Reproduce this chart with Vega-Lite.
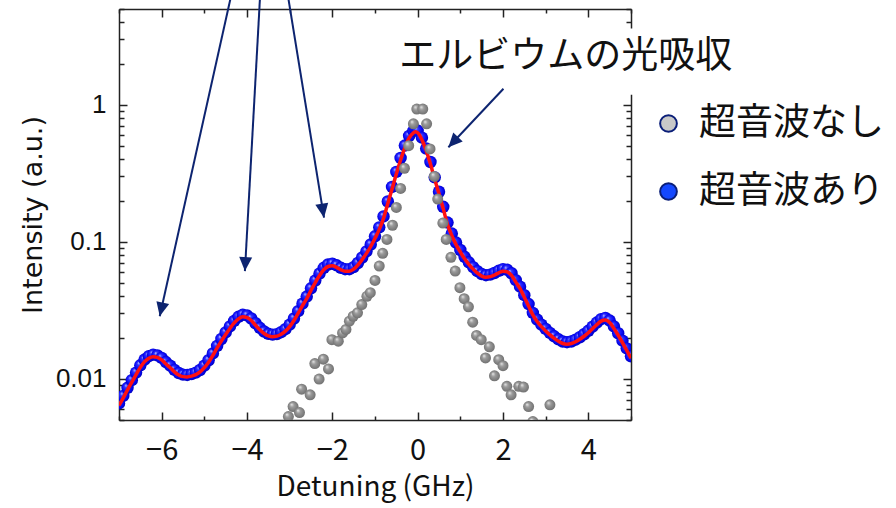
{
  "$schema": "https://vega.github.io/schema/vega-lite/v6.json",
  "width": 512,
  "height": 411,
  "autosize": {"type": "none"},
  "padding": {"left": 119, "top": 9, "right": 265, "bottom": 88},
  "background": "white",
  "config": {
    "view": {"stroke": null},
    "axis": {"grid": false, "tickColor": "#222", "tickWidth": 1.5, "domainColor": "#222", "domainWidth": 1.5}
  },
  "datasets": {
    "abs": [
      {"x": -7.0, "v": 0.00661}, {"x": -6.9, "v": 0.0075}, {"x": -6.8, "v": 0.00859}, {"x": -6.7, "v": 0.00977},
      {"x": -6.6, "v": 0.01109}, {"x": -6.5, "v": 0.01253}, {"x": -6.4, "v": 0.0138}, {"x": -6.3, "v": 0.01462},
      {"x": -6.2, "v": 0.015}, {"x": -6.1, "v": 0.01479}, {"x": -6.0, "v": 0.01419}, {"x": -5.9, "v": 0.01324},
      {"x": -5.8, "v": 0.01245}, {"x": -5.7, "v": 0.01161}, {"x": -5.6, "v": 0.01102}, {"x": -5.5, "v": 0.01072},
      {"x": -5.4, "v": 0.01067}, {"x": -5.3, "v": 0.01081}, {"x": -5.2, "v": 0.01109}, {"x": -5.1, "v": 0.01159},
      {"x": -5.0, "v": 0.01245}, {"x": -4.9, "v": 0.01365}, {"x": -4.8, "v": 0.01531}, {"x": -4.7, "v": 0.01738},
      {"x": -4.6, "v": 0.0195}, {"x": -4.5, "v": 0.02178}, {"x": -4.4, "v": 0.0241}, {"x": -4.3, "v": 0.02642},
      {"x": -4.2, "v": 0.02831}, {"x": -4.1, "v": 0.02931}, {"x": -4.0, "v": 0.02897}, {"x": -3.9, "v": 0.02754},
      {"x": -3.8, "v": 0.02541}, {"x": -3.7, "v": 0.02355}, {"x": -3.6, "v": 0.02213}, {"x": -3.5, "v": 0.02128},
      {"x": -3.4, "v": 0.02099}, {"x": -3.3, "v": 0.02118}, {"x": -3.2, "v": 0.02188}, {"x": -3.1, "v": 0.02301},
      {"x": -3.0, "v": 0.02483}, {"x": -2.9, "v": 0.02754}, {"x": -2.8, "v": 0.03112}, {"x": -2.7, "v": 0.03532},
      {"x": -2.6, "v": 0.03981}, {"x": -2.5, "v": 0.04571}, {"x": -2.4, "v": 0.05212}, {"x": -2.3, "v": 0.05861},
      {"x": -2.2, "v": 0.06457}, {"x": -2.1, "v": 0.06823}, {"x": -2.0, "v": 0.06918}, {"x": -1.9, "v": 0.0673},
      {"x": -1.8, "v": 0.06457}, {"x": -1.7, "v": 0.0631}, {"x": -1.6, "v": 0.0631}, {"x": -1.5, "v": 0.06531},
      {"x": -1.4, "v": 0.06998}, {"x": -1.3, "v": 0.07674}, {"x": -1.2, "v": 0.08511}, {"x": -1.1, "v": 0.0955},
      {"x": -1.0, "v": 0.10965}, {"x": -0.9, "v": 0.12735}, {"x": -0.8, "v": 0.15311}, {"x": -0.7, "v": 0.19679},
      {"x": -0.6, "v": 0.25119}, {"x": -0.5, "v": 0.32359}, {"x": -0.4, "v": 0.40926}, {"x": -0.3, "v": 0.5035},
      {"x": -0.2, "v": 0.59156}, {"x": -0.1, "v": 0.64565}, {"x": -0.05, "v": 0.65766}, {"x": 0.0, "v": 0.64565},
      {"x": 0.1, "v": 0.57544}, {"x": 0.2, "v": 0.47863}, {"x": 0.3, "v": 0.38194}, {"x": 0.4, "v": 0.29512},
      {"x": 0.5, "v": 0.23174}, {"x": 0.6, "v": 0.17989}, {"x": 0.7, "v": 0.13804}, {"x": 0.8, "v": 0.11482},
      {"x": 0.9, "v": 0.09863}, {"x": 1.0, "v": 0.0871}, {"x": 1.1, "v": 0.07762}, {"x": 1.2, "v": 0.07079},
      {"x": 1.3, "v": 0.06531}, {"x": 1.4, "v": 0.06095}, {"x": 1.5, "v": 0.05808}, {"x": 1.6, "v": 0.05702},
      {"x": 1.7, "v": 0.05754}, {"x": 1.8, "v": 0.05916}, {"x": 1.9, "v": 0.06138}, {"x": 2.0, "v": 0.0631},
      {"x": 2.1, "v": 0.06237}, {"x": 2.2, "v": 0.05888}, {"x": 2.3, "v": 0.05248}, {"x": 2.4, "v": 0.04699},
      {"x": 2.5, "v": 0.04074}, {"x": 2.6, "v": 0.03508}, {"x": 2.7, "v": 0.03027}, {"x": 2.8, "v": 0.02704},
      {"x": 2.9, "v": 0.02483}, {"x": 3.0, "v": 0.02312}, {"x": 3.1, "v": 0.02163}, {"x": 3.2, "v": 0.02042},
      {"x": 3.3, "v": 0.01941}, {"x": 3.4, "v": 0.01871}, {"x": 3.5, "v": 0.01849}, {"x": 3.6, "v": 0.01871},
      {"x": 3.7, "v": 0.01928}, {"x": 3.8, "v": 0.02009}, {"x": 3.9, "v": 0.02113}, {"x": 4.0, "v": 0.02239},
      {"x": 4.1, "v": 0.02399}, {"x": 4.2, "v": 0.0257}, {"x": 4.3, "v": 0.02723}, {"x": 4.4, "v": 0.0278},
      {"x": 4.5, "v": 0.02661}, {"x": 4.6, "v": 0.0241}, {"x": 4.7, "v": 0.02148}, {"x": 4.8, "v": 0.01897},
      {"x": 4.9, "v": 0.01667}, {"x": 5.0, "v": 0.01459}
    ],
    "ref": [
      {"x": -3.03, "v": 0.0053}, {"x": -2.92, "v": 0.00627}, {"x": -2.77, "v": 0.00567}, {"x": -2.72, "v": 0.0084},
      {"x": -2.52, "v": 0.00763}, {"x": -2.41, "v": 0.0129}, {"x": -2.31, "v": 0.00995}, {"x": -2.21, "v": 0.0139},
      {"x": -2.09, "v": 0.0118}, {"x": -2.01, "v": 0.0193}, {"x": -1.86, "v": 0.0188}, {"x": -1.76, "v": 0.0216},
      {"x": -1.68, "v": 0.0229}, {"x": -1.6, "v": 0.0263}, {"x": -1.51, "v": 0.0286}, {"x": -1.41, "v": 0.0303},
      {"x": -1.31, "v": 0.0348}, {"x": -1.19, "v": 0.04}, {"x": -1.11, "v": 0.0425}, {"x": -1.0, "v": 0.0522},
      {"x": -0.9, "v": 0.0665}, {"x": -0.82, "v": 0.0824}, {"x": -0.72, "v": 0.104}, {"x": -0.59, "v": 0.132},
      {"x": -0.5, "v": 0.178}, {"x": -0.4, "v": 0.245}, {"x": -0.31, "v": 0.344}, {"x": -0.21, "v": 0.503},
      {"x": -0.1, "v": 0.726}, {"x": -0.02, "v": 0.93}, {"x": 0.12, "v": 0.93}, {"x": 0.21, "v": 0.726},
      {"x": 0.29, "v": 0.476}, {"x": 0.39, "v": 0.3}, {"x": 0.47, "v": 0.205}, {"x": 0.59, "v": 0.137},
      {"x": 0.67, "v": 0.104}, {"x": 0.78, "v": 0.077}, {"x": 0.88, "v": 0.0611}, {"x": 0.99, "v": 0.0462},
      {"x": 1.09, "v": 0.0384}, {"x": 1.19, "v": 0.0335}, {"x": 1.29, "v": 0.0259}, {"x": 1.38, "v": 0.0207},
      {"x": 1.49, "v": 0.0193}, {"x": 1.59, "v": 0.0142}, {"x": 1.68, "v": 0.0171}, {"x": 1.8, "v": 0.0105},
      {"x": 1.9, "v": 0.01377}, {"x": 2.0, "v": 0.01245}, {"x": 2.09, "v": 0.0088}, {"x": 2.19, "v": 0.00763},
      {"x": 2.37, "v": 0.0088}, {"x": 2.48, "v": 0.0087}, {"x": 2.6, "v": 0.00627}, {"x": 2.7, "v": 0.00487},
      {"x": 3.1, "v": 0.00645}
    ],
    "arrows": [
      {"x": -4.36, "y": 6.5, "x2": -6.045, "y2": 0.0286},
      {"x": -3.69, "y": 6.5, "x2": -4.049, "y2": 0.0611},
      {"x": -3.05, "y": 6.5, "x2": -2.195, "y2": 0.15},
      {"x": 2.01, "y": 1.31, "x2": 0.72, "y2": 0.49}
    ],
    "note": [{"label": "エルビウムの光吸収", "x": 3.47, "y": 2.247, "bx": -0.946, "bx2": 8.0, "by": 1.184, "by2": 3.605}],
    "keys": [{"series": "超音波なし", "x": 0, "v": 1}, {"series": "超音波あり", "x": 0, "v": 1}]
  },
  "resolve": {"axis": {"x": "independent", "y": "independent"}},
  "layer": [
    {
      "data": {"name": "note"},
      "mark": {"type": "rect", "fill": "white", "clip": false},
      "encoding": {
        "x": {"field": "bx", "type": "quantitative", "scale": {"domain": [-7, 5], "nice": false, "zero": false}, "axis": null},
        "x2": {"field": "bx2"},
        "y": {"field": "by", "type": "quantitative", "scale": {"type": "log", "domain": [0.005, 5], "nice": false}, "axis": null},
        "y2": {"field": "by2"}
      }
    },
    {
      "data": {"name": "abs"},
      "mark": {"type": "point", "filled": true, "shape": "circle", "size": 155, "opacity": 1, "clip": true, "strokeWidth": 0,
        "fill": {"gradient": "radial", "x1": 0.35, "y1": 0.3, "r1": 0, "x2": 0.5, "y2": 0.5, "r2": 0.55,
          "stops": [{"offset": 0, "color": "#c8c8ff"}, {"offset": 0.25, "color": "#3434ff"}, {"offset": 0.7, "color": "#0606f4"}, {"offset": 1, "color": "#0000b0"}]}},
      "encoding": {
        "x": {"field": "x", "type": "quantitative", "scale": {"domain": [-7, 5], "nice": false, "zero": false},
          "axis": {"orient": "bottom", "values": [-6, -4, -2, 0, 2, 4], "format": "d", "tickSize": -8, "domain": true,
            "labelFont": "Noto Sans CJK JP", "labelFontSize": 29, "labelPadding": 24, "labelColor": "#111",
            "title": "Detuning (GHz)", "titleFont": "Noto Sans CJK JP", "titleFontSize": 28, "titleFontWeight": "normal", "titleColor": "#111", "titlePadding": 8}},
        "y": {"field": "v", "type": "quantitative", "scale": {"type": "log", "domain": [0.005, 5], "nice": false},
          "axis": {"orient": "left", "values": [0.01, 0.1, 1], "format": "~g", "tickSize": -8, "domain": true,
            "labelFont": "Liberation Sans", "labelFontSize": 26, "labelPadding": 21, "labelColor": "#111",
            "title": "Intensity (a.u.)", "titleFont": "DejaVu Sans", "titleFontSize": 27, "titleFontWeight": "normal", "titleColor": "#111", "titlePadding": 8}}
      }
    },
    {
      "data": {"name": "abs"},
      "mark": {"type": "line", "color": "#ff1010", "strokeWidth": 3.5, "interpolate": "monotone", "clip": true, "yOffset": 2},
      "encoding": {
        "x": {"field": "x", "type": "quantitative", "scale": {"domain": [-7, 5], "nice": false, "zero": false},
          "axis": {"orient": "bottom", "values": [-7, -5, -3, -1, 1, 3, 5], "tickSize": -4, "domain": false, "labels": false, "title": null}},
        "y": {"field": "v", "type": "quantitative", "scale": {"type": "log", "domain": [0.005, 5], "nice": false},
          "axis": {"orient": "left", "values": [0.005, 0.006, 0.007, 0.008, 0.009, 0.02, 0.03, 0.04, 0.05, 0.06, 0.07, 0.08, 0.09, 0.2, 0.3, 0.4, 0.5, 0.6, 0.7, 0.8, 0.9, 2, 3, 4, 5],
            "tickSize": -5, "domain": false, "labels": false, "title": null}}
      }
    },
    {
      "data": {"name": "ref"},
      "mark": {"type": "point", "filled": true, "shape": "circle", "size": 121, "opacity": 1, "clip": true, "strokeWidth": 0,
        "fill": {"gradient": "radial", "x1": 0.35, "y1": 0.3, "r1": 0, "x2": 0.5, "y2": 0.5, "r2": 0.55,
          "stops": [{"offset": 0, "color": "#eeeeee"}, {"offset": 0.35, "color": "#9c9c9c"}, {"offset": 1, "color": "#6c6c6c"}]}},
      "encoding": {
        "x": {"field": "x", "type": "quantitative", "scale": {"domain": [-7, 5], "nice": false, "zero": false},
          "axis": {"orient": "top", "values": [-6, -4, -2, 0, 2, 4], "tickSize": -8, "domain": true, "labels": false, "title": null}},
        "y": {"field": "v", "type": "quantitative", "scale": {"type": "log", "domain": [0.005, 5], "nice": false},
          "axis": {"orient": "right", "values": [0.01, 0.1, 1], "tickSize": -8, "domain": true, "labels": false, "title": null}}
      }
    },
    {
      "data": {"name": "keys"},
      "mark": {"type": "point", "filled": true, "shape": "circle", "size": 280, "opacity": 0},
      "encoding": {
        "x": {"field": "x", "type": "quantitative", "scale": {"domain": [-7, 5], "nice": false, "zero": false},
          "axis": {"orient": "top", "values": [-7, -5, -3, -1, 1, 3, 5], "tickSize": -4, "domain": false, "labels": false, "title": null}},
        "y": {"field": "v", "type": "quantitative", "scale": {"type": "log", "domain": [0.005, 5], "nice": false},
          "axis": {"orient": "right", "values": [0.005, 0.006, 0.007, 0.008, 0.009, 0.02, 0.03, 0.04, 0.05, 0.06, 0.07, 0.08, 0.09, 0.2, 0.3, 0.4, 0.5, 0.6, 0.7, 0.8, 0.9, 2, 3, 4, 5],
            "tickSize": -5, "domain": false, "labels": false, "title": null}},
        "fill": {"field": "series", "type": "nominal",
          "scale": {"domain": ["超音波なし", "超音波あり"], "range": ["#c8c8c8", "#1448ff"]},
          "legend": {"orient": "none", "legendX": 531, "legendY": 96, "title": null,
            "symbolType": "circle", "symbolSize": 280, "symbolOpacity": 1, "symbolStrokeColor": "#0a1e78", "symbolStrokeWidth": 2,
            "labelFont": "Noto Sans CJK JP", "labelFontSize": 37, "labelColor": "#111", "labelLimit": 400, "labelOffset": 12, "rowPadding": 30}}
      }
    },
    {
      "data": {"name": "arrows"},
      "mark": {"type": "rule", "color": "#0d2470", "strokeWidth": 2, "clip": false},
      "encoding": {
        "x": {"field": "x", "type": "quantitative", "scale": {"domain": [-7, 5], "nice": false, "zero": false}, "axis": null},
        "y": {"field": "y", "type": "quantitative", "scale": {"type": "log", "domain": [0.005, 5], "nice": false}, "axis": null},
        "x2": {"field": "x2"},
        "y2": {"field": "y2"}
      }
    },
    {
      "data": {"name": "arrows"},
      "transform": [{"calculate": "atan2(-(datum.x2 - datum.x) * 42.62, (log(datum.y) - log(datum.y2)) / LN10 * 137) * 180 / PI", "as": "ang"}],
      "mark": {"type": "point", "filled": true, "shape": "M0,0L-0.65,-1.4L0.65,-1.4Z", "size": 400, "color": "#0d2470", "opacity": 1, "clip": false},
      "encoding": {
        "x": {"field": "x2", "type": "quantitative", "scale": {"domain": [-7, 5], "nice": false, "zero": false}, "axis": null},
        "y": {"field": "y2", "type": "quantitative", "scale": {"type": "log", "domain": [0.005, 5], "nice": false}, "axis": null},
        "angle": {"field": "ang", "type": "quantitative", "scale": null}
      }
    },
    {
      "data": {"name": "note"},
      "mark": {"type": "text", "font": "Noto Sans CJK JP", "fontSize": 37, "color": "#111", "align": "center", "baseline": "middle", "clip": false},
      "encoding": {
        "x": {"field": "x", "type": "quantitative", "scale": {"domain": [-7, 5], "nice": false, "zero": false}, "axis": null},
        "y": {"field": "y", "type": "quantitative", "scale": {"type": "log", "domain": [0.005, 5], "nice": false}, "axis": null},
        "text": {"field": "label"}
      }
    }
  ]
}
